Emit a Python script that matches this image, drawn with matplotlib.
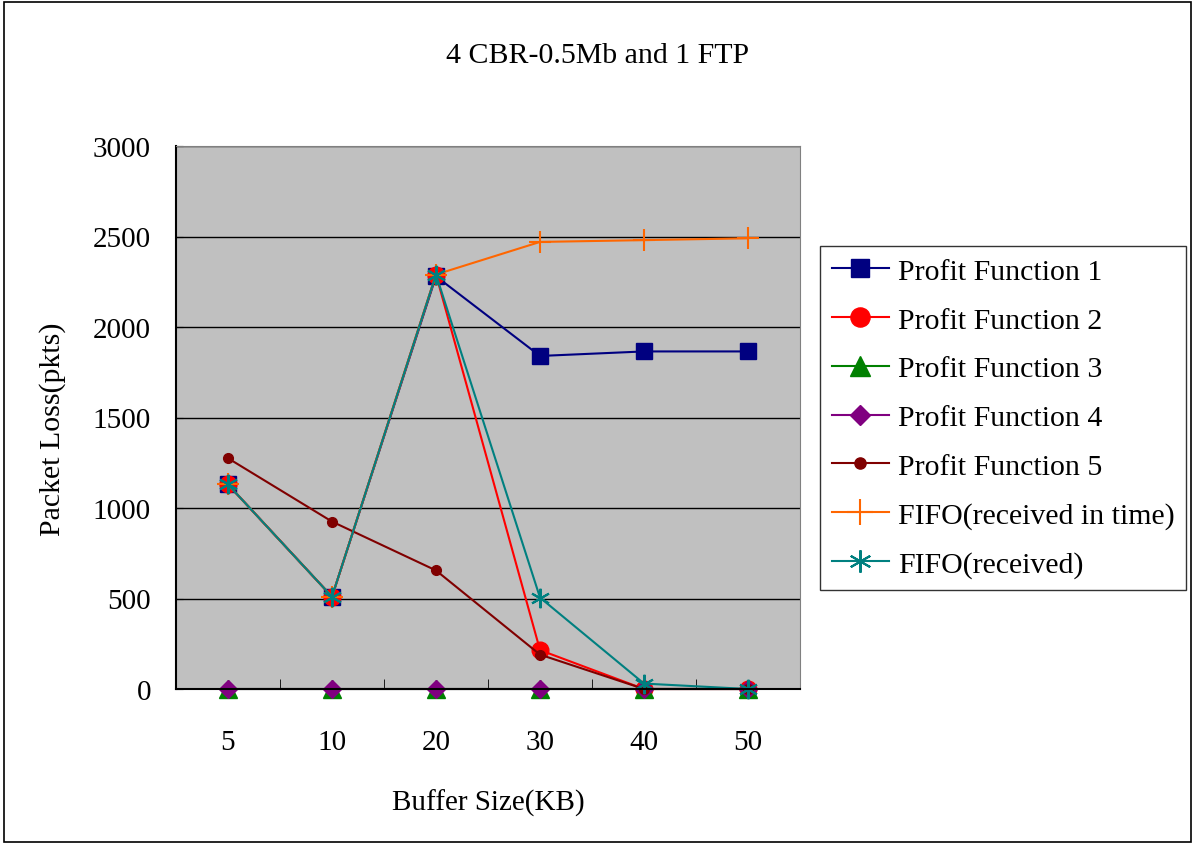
import matplotlib
matplotlib.use("Agg")
import matplotlib.pyplot as plt
from matplotlib.patches import Rectangle

buffer_sizes = ["5", "10", "20", "30", "40", "50"]
pf1 = [1130, 510, 2280, 1840, 1865, 1865]
pf2 = [1130, 510, 2290, 215, 0, 0]
pf3 = [0, 0, 0, 0, 0, 0]
pf4 = [0, 0, 0, 0, 0, 0]
pf5 = [1275, 925, 655, 190, 0, 0]
fifo_in_time = [1130, 510, 2290, 2470, 2480, 2490]
fifo_recv = [1130, 510, 2290, 505, 30, 0]

plt.rcParams['font.family'] = ['Liberation Serif', 'DejaVu Serif']

fig = plt.figure(figsize=(11.95, 8.45), dpi=100)
fig.patches.append(Rectangle((0.003, 0.002), 0.994, 0.995, transform=fig.transFigure,
                             fill=False, edgecolor="black", linewidth=1.2))
ax = fig.add_axes([176 / 1195, 155 / 845, 624 / 1195, 543 / 845])
ax.set_facecolor("#C0C0C0")

x = list(range(len(buffer_sizes)))
series = [
    (pf1, "Profit Function 1", "#000080", dict(marker="s", markersize=11)),
    (pf2, "Profit Function 2", "#FF0000", dict(marker="o", markersize=12)),
    (pf3, "Profit Function 3", "#008000", dict(marker="^", markersize=13)),
    (pf4, "Profit Function 4", "#800080", dict(marker="D", markersize=9)),
    (pf5, "Profit Function 5", "#800000", dict(marker="o", markersize=7)),
    (fifo_in_time, "FIFO(received in time)", "#FF6600", dict(marker="+", markersize=16, markeredgewidth=1.5)),
    (fifo_recv, "FIFO(received)", "#008080", dict(marker=(6, 2, 0), markersize=14, markeredgewidth=1.5)),
]
for vals, label, color, mk in series:
    ax.plot(x, vals, color=color, linewidth=1.5, label=label, clip_on=False,
            markerfacecolor=color, markeredgecolor=color, **mk)

ax.set_xlim(-0.5, len(buffer_sizes) - 0.5)
ax.set_ylim(0, 3000)
ax.set_yticks(range(0, 3001, 500))
ax.yaxis.grid(True, color="black", linewidth=1)
ax.set_axisbelow(True)
ax.set_xticks(x)
ax.set_xticklabels(buffer_sizes)
ax.set_xticks([i + 0.5 for i in range(-1, len(buffer_sizes))], minor=True)
ax.tick_params(axis="x", which="major", length=0, pad=29, labelsize=21)
ax.tick_params(axis="x", which="minor", length=7, direction="in", color="black")
ax.tick_params(axis="y", which="major", length=5, direction="in", labelsize=21, pad=18)
for side in ["top", "right"]:
    ax.spines[side].set_color("#808080")
for side in ["left", "bottom"]:
    ax.spines[side].set_color("black")
    ax.spines[side].set_linewidth(1.5)

ax.set_xlabel("Buffer Size(KB)", fontsize=21, labelpad=24)
ax.set_ylabel("Packet Loss(pkts)", fontsize=21.5)
ax.yaxis.set_label_coords(-110 / 624, 0.48)
fig.text(598 / 1195, 1 - 56 / 845, "4 CBR-0.5Mb and 1 FTP", ha="center", va="center", fontsize=21.5)

leg = ax.legend(loc="upper left", bbox_to_anchor=(820 / 1195, 1 - 247 / 845),
                bbox_transform=fig.transFigure, fontsize=21.5, frameon=True,
                fancybox=False, edgecolor="black", handlelength=1.9,
                labelspacing=0.73, borderpad=0.4, handletextpad=0.3, borderaxespad=0,
                markerscale=1.15)
leg.get_frame().set_linewidth(1)

fig.savefig("out.png", dpi=100)
